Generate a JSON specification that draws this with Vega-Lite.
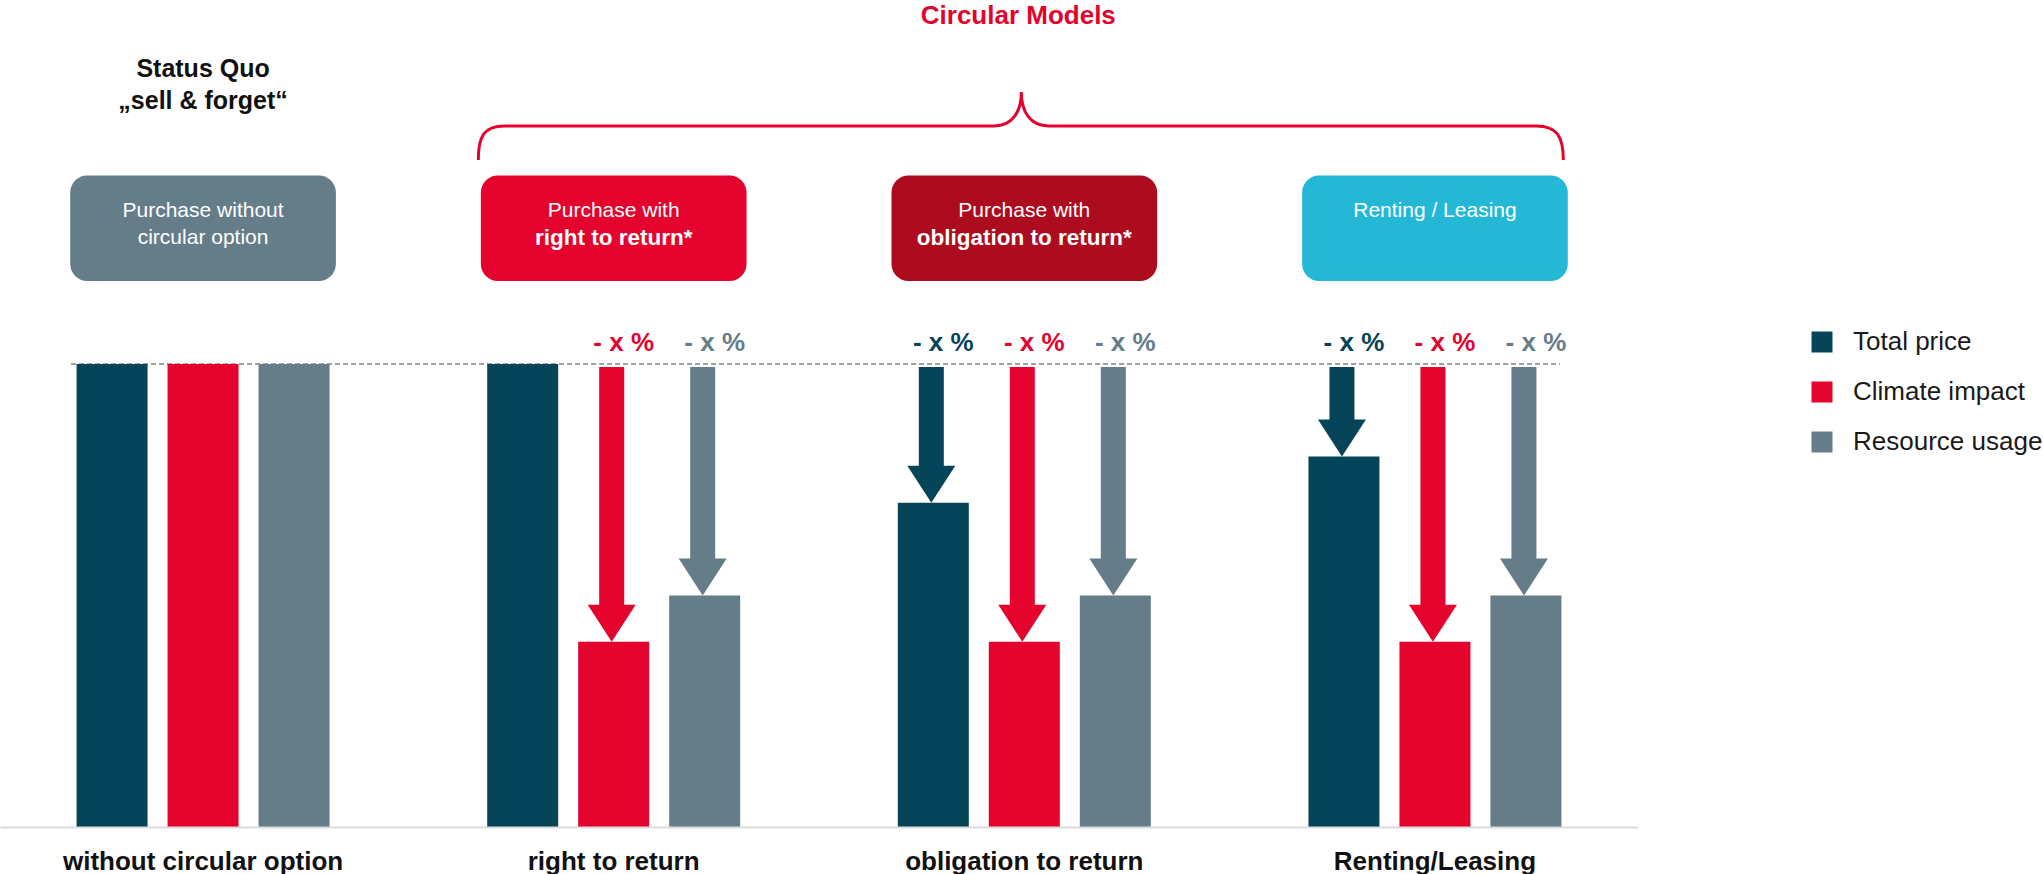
{
  "$schema": "https://vega.github.io/schema/vega-lite/v6.json",
  "width": 1638,
  "height": 827,
  "padding": 0,
  "background": "#ffffff",
  "config": {
    "view": {"stroke": null},
    "font": "Liberation Sans",
    "axisX": {"labelFontSize": 26, "labelFontWeight": "bold", "labelColor": "#111111", "labelLimit": 0, "domainColor": "#dcdcdc", "domainWidth": 2, "ticks": false, "labelPadding": 21, "grid": false, "labelAngle": 0},
    "legend": {"orient": "none", "legendX": 1809, "legendY": 329, "symbolType": "square", "symbolSize": 441, "symbolStrokeWidth": 0, "labelFontSize": 26, "labelColor": "#1a1a1a", "labelLimit": 0, "labelOffset": 18, "rowPadding": 24, "padding": 0}
  },
  "datasets": {
    "bars": [
      {"group": "without circular option", "metric": "Total price", "value": 100},
      {"group": "without circular option", "metric": "Climate impact", "value": 100},
      {"group": "without circular option", "metric": "Resource usage", "value": 100},
      {"group": "right to return", "metric": "Total price", "value": 100},
      {"group": "right to return", "metric": "Climate impact", "value": 40},
      {"group": "right to return", "metric": "Resource usage", "value": 50},
      {"group": "obligation to return", "metric": "Total price", "value": 70},
      {"group": "obligation to return", "metric": "Climate impact", "value": 40},
      {"group": "obligation to return", "metric": "Resource usage", "value": 50},
      {"group": "Renting/Leasing", "metric": "Total price", "value": 80},
      {"group": "Renting/Leasing", "metric": "Climate impact", "value": 40},
      {"group": "Renting/Leasing", "metric": "Resource usage", "value": 50}
    ],
    "boxtext": [
      {"group": "without circular option", "line": 1, "text": "Purchase without", "bold": 0},
      {"group": "without circular option", "line": 2, "text": "circular option", "bold": 0},
      {"group": "right to return", "line": 1, "text": "Purchase with", "bold": 0},
      {"group": "right to return", "line": 2, "text": "right to return*", "bold": 1},
      {"group": "obligation to return", "line": 1, "text": "Purchase with", "bold": 0},
      {"group": "obligation to return", "line": 2, "text": "obligation to return*", "bold": 1},
      {"group": "Renting/Leasing", "line": 1, "text": "Renting / Leasing", "bold": 0}
    ],
    "titles": [
      {"group": "without circular option", "text": "Status Quo", "row": 1},
      {"group": "without circular option", "text": "„sell & forget“", "row": 2},
      {"group": "obligation to return", "text": "Circular Models", "row": 0}
    ]
  },
  "layer": [
    {
      "data": {"name": "boxtext"},
      "transform": [{"filter": "datum.line == 1"}],
      "mark": {"type": "rect", "cornerRadius": 17},
      "encoding": {
        "x": {"field": "group", "type": "nominal", "title": null,
              "scale": {"type": "band", "domain": ["without circular option", "right to return", "obligation to return", "Renting/Leasing"], "paddingInner": 0.353, "paddingOuter": 0.171}},
        "y": {"datum": 140.7, "type": "quantitative", "axis": null, "scale": {"domain": [0, 178.6], "nice": false, "zero": true}},
        "y2": {"datum": 117.9},
        "fill": {"field": "group", "type": "nominal", "legend": null,
              "scale": {"domain": ["without circular option", "right to return", "obligation to return", "Renting/Leasing"], "range": ["#657d89", "#e4032c", "#ad0c1e", "#24b8d6"]}}
      }
    },
    {
      "data": {"name": "boxtext"},
      "transform": [{"filter": "datum.line == 1"}],
      "mark": {"type": "text", "color": "#ffffff", "fontSize": 21, "baseline": "middle", "align": "center"},
      "encoding": {
        "x": {"field": "group", "type": "nominal", "title": null},
        "y": {"datum": 133.1, "type": "quantitative"},
        "text": {"field": "text", "type": "nominal"}
      }
    },
    {
      "data": {"name": "boxtext"},
      "transform": [{"filter": "datum.line == 2 && datum.bold == 0"}],
      "mark": {"type": "text", "color": "#ffffff", "fontSize": 21, "baseline": "middle", "align": "center"},
      "encoding": {
        "x": {"field": "group", "type": "nominal", "title": null},
        "y": {"datum": 127.3, "type": "quantitative"},
        "text": {"field": "text", "type": "nominal"}
      }
    },
    {
      "data": {"name": "boxtext"},
      "transform": [{"filter": "datum.line == 2 && datum.bold == 1"}],
      "mark": {"type": "text", "color": "#ffffff", "fontSize": 22.5, "fontWeight": "bold", "baseline": "middle", "align": "center"},
      "encoding": {
        "x": {"field": "group", "type": "nominal", "title": null},
        "y": {"datum": 127.3, "type": "quantitative"},
        "text": {"field": "text", "type": "nominal"}
      }
    },
    {
      "data": {"name": "titles"},
      "transform": [{"filter": "datum.row == 1"}],
      "mark": {"type": "text", "color": "#111111", "fontSize": 25, "fontWeight": "bold", "baseline": "middle", "align": "center"},
      "encoding": {
        "x": {"field": "group", "type": "nominal", "title": null},
        "y": {"datum": 163.8, "type": "quantitative"},
        "text": {"field": "text", "type": "nominal"}
      }
    },
    {
      "data": {"name": "titles"},
      "transform": [{"filter": "datum.row == 2"}],
      "mark": {"type": "text", "color": "#111111", "fontSize": 25, "fontWeight": "bold", "baseline": "middle", "align": "center"},
      "encoding": {
        "x": {"field": "group", "type": "nominal", "title": null},
        "y": {"datum": 156.8, "type": "quantitative"},
        "text": {"field": "text", "type": "nominal"}
      }
    },
    {
      "data": {"name": "titles"},
      "transform": [{"filter": "datum.row == 0"}],
      "mark": {"type": "text", "color": "#e4032c", "fontSize": 26, "fontWeight": "bold", "baseline": "middle", "align": "center", "dx": -6},
      "encoding": {
        "x": {"field": "group", "type": "nominal", "title": null},
        "y": {"datum": 175.1, "type": "quantitative"},
        "text": {"field": "text", "type": "nominal"}
      }
    },
    {
      "data": {"name": "titles"},
      "transform": [{"filter": "datum.row == 0"}],
      "mark": {"type": "point", "shape": "M-546,34C-546,10 -540,0 -520,0L-30,0C-12,0 -3,-14 -3,-34C-3,-14 6,0 24,0L512,0C532,0 539,10 539,34", "size": 4, "filled": false, "color": "#e4032c", "strokeWidth": 3, "opacity": 1},
      "encoding": {
        "x": {"field": "group", "type": "nominal", "title": null},
        "y": {"datum": 151.4, "type": "quantitative"}
      }
    },
    {
      "data": {"name": "titles"},
      "transform": [{"filter": "datum.row == 0"}],
      "mark": {"type": "rule", "color": "#a0a0a0", "strokeWidth": 2, "strokeDash": [5, 3], "xOffset": -132, "x2Offset": 125},
      "encoding": {
        "x": {"datum": "without circular option", "type": "nominal", "title": null},
        "x2": {"datum": "Renting/Leasing"},
        "y": {"datum": 100, "type": "quantitative"}
      }
    },
    {
      "data": {"name": "bars"},
      "transform": [{"filter": "datum.metric == 'Total price'"}],
      "mark": {"type": "bar", "width": 71, "xOffset": -91},
      "encoding": {
        "x": {"field": "group", "type": "nominal", "title": null},
        "y": {"field": "value", "type": "quantitative"},
        "color": {"field": "metric", "type": "nominal",
              "scale": {"domain": ["Total price", "Climate impact", "Resource usage"], "range": ["#054459", "#e4032c", "#657d89"]},
              "legend": {"title": null}}
      }
    },
    {
      "data": {"name": "bars"},
      "transform": [{"filter": "datum.metric == 'Climate impact'"}],
      "mark": {"type": "bar", "width": 71, "xOffset": 0},
      "encoding": {
        "x": {"field": "group", "type": "nominal", "title": null},
        "y": {"field": "value", "type": "quantitative"},
        "color": {"field": "metric", "type": "nominal", "legend": {"title": null}}
      }
    },
    {
      "data": {"name": "bars"},
      "transform": [{"filter": "datum.metric == 'Resource usage'"}],
      "mark": {"type": "bar", "width": 71, "xOffset": 91},
      "encoding": {
        "x": {"field": "group", "type": "nominal", "title": null},
        "y": {"field": "value", "type": "quantitative"},
        "color": {"field": "metric", "type": "nominal", "legend": {"title": null}}
      }
    },
    {
      "data": {"name": "bars"},
      "transform": [{"filter": "datum.value < 100 && datum.metric == 'Total price'"}],
      "mark": {"type": "rule", "strokeWidth": 25, "xOffset": -93, "yOffset": -30, "y2Offset": 3},
      "encoding": {
        "x": {"field": "group", "type": "nominal", "title": null},
        "y": {"field": "value", "type": "quantitative"},
        "y2": {"datum": 100},
        "color": {"field": "metric", "type": "nominal", "legend": {"title": null}}
      }
    },
    {
      "data": {"name": "bars"},
      "transform": [{"filter": "datum.value < 100 && datum.metric == 'Climate impact'"}],
      "mark": {"type": "rule", "strokeWidth": 25, "xOffset": -2, "yOffset": -30, "y2Offset": 3},
      "encoding": {
        "x": {"field": "group", "type": "nominal", "title": null},
        "y": {"field": "value", "type": "quantitative"},
        "y2": {"datum": 100},
        "color": {"field": "metric", "type": "nominal", "legend": {"title": null}}
      }
    },
    {
      "data": {"name": "bars"},
      "transform": [{"filter": "datum.value < 100 && datum.metric == 'Resource usage'"}],
      "mark": {"type": "rule", "strokeWidth": 25, "xOffset": 89, "yOffset": -30, "y2Offset": 3},
      "encoding": {
        "x": {"field": "group", "type": "nominal", "title": null},
        "y": {"field": "value", "type": "quantitative"},
        "y2": {"datum": 100},
        "color": {"field": "metric", "type": "nominal", "legend": {"title": null}}
      }
    },
    {
      "data": {"name": "bars"},
      "transform": [{"filter": "datum.value < 100 && datum.metric == 'Total price'"}],
      "mark": {"type": "point", "shape": "M-24,-37L24,-37L0,0Z", "size": 4, "filled": true, "opacity": 1, "strokeWidth": 0, "xOffset": -93},
      "encoding": {
        "x": {"field": "group", "type": "nominal", "title": null},
        "y": {"field": "value", "type": "quantitative"},
        "color": {"field": "metric", "type": "nominal", "legend": {"title": null}}
      }
    },
    {
      "data": {"name": "bars"},
      "transform": [{"filter": "datum.value < 100 && datum.metric == 'Climate impact'"}],
      "mark": {"type": "point", "shape": "M-24,-37L24,-37L0,0Z", "size": 4, "filled": true, "opacity": 1, "strokeWidth": 0, "xOffset": -2},
      "encoding": {
        "x": {"field": "group", "type": "nominal", "title": null},
        "y": {"field": "value", "type": "quantitative"},
        "color": {"field": "metric", "type": "nominal", "legend": {"title": null}}
      }
    },
    {
      "data": {"name": "bars"},
      "transform": [{"filter": "datum.value < 100 && datum.metric == 'Resource usage'"}],
      "mark": {"type": "point", "shape": "M-24,-37L24,-37L0,0Z", "size": 4, "filled": true, "opacity": 1, "strokeWidth": 0, "xOffset": 89},
      "encoding": {
        "x": {"field": "group", "type": "nominal", "title": null},
        "y": {"field": "value", "type": "quantitative"},
        "color": {"field": "metric", "type": "nominal", "legend": {"title": null}}
      }
    },
    {
      "data": {"name": "bars"},
      "transform": [{"filter": "datum.value < 100 && datum.metric == 'Total price'"}],
      "mark": {"type": "text", "fontSize": 26, "fontWeight": "bold", "baseline": "middle", "align": "center", "dx": -81},
      "encoding": {
        "x": {"field": "group", "type": "nominal", "title": null},
        "y": {"datum": 104.6, "type": "quantitative"},
        "text": {"value": "- x %"},
        "color": {"field": "metric", "type": "nominal", "legend": {"title": null}}
      }
    },
    {
      "data": {"name": "bars"},
      "transform": [{"filter": "datum.value < 100 && datum.metric == 'Climate impact'"}],
      "mark": {"type": "text", "fontSize": 26, "fontWeight": "bold", "baseline": "middle", "align": "center", "dx": 10},
      "encoding": {
        "x": {"field": "group", "type": "nominal", "title": null},
        "y": {"datum": 104.6, "type": "quantitative"},
        "text": {"value": "- x %"},
        "color": {"field": "metric", "type": "nominal", "legend": {"title": null}}
      }
    },
    {
      "data": {"name": "bars"},
      "transform": [{"filter": "datum.value < 100 && datum.metric == 'Resource usage'"}],
      "mark": {"type": "text", "fontSize": 26, "fontWeight": "bold", "baseline": "middle", "align": "center", "dx": 101},
      "encoding": {
        "x": {"field": "group", "type": "nominal", "title": null},
        "y": {"datum": 104.6, "type": "quantitative"},
        "text": {"value": "- x %"},
        "color": {"field": "metric", "type": "nominal", "legend": {"title": null}}
      }
    }
  ],
  "resolve": {"axis": {"y": "shared"}},
  "encoding": {"y": {"axis": null}}
}
